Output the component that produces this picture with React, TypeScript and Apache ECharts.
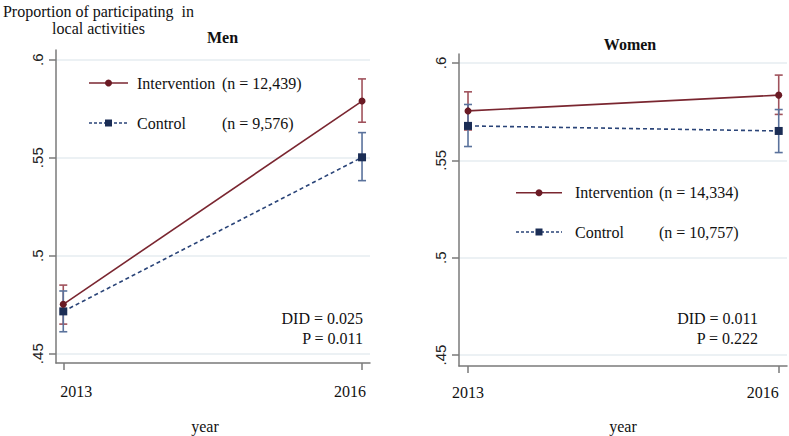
import React, { useEffect, useRef } from 'react';
import * as echarts from 'echarts';

const years = [2013, 2016];
const xTickLabels = ['2013', '2016'];
const yTickValues = [0.45, 0.5, 0.55, 0.6];
const yTickLabels = ['.45', '.5', '.55', '.6'];

const menIntervention = [0.4752, 0.5789];
const menInterventionLow = [0.4651, 0.5681];
const menInterventionHigh = [0.485, 0.5902];
const menControl = [0.4716, 0.5502];
const menControlLow = [0.4612, 0.5383];
const menControlHigh = [0.482, 0.5628];

const womenIntervention = [0.5754, 0.5835];
const womenInterventionLow = [0.5656, 0.5736];
const womenInterventionHigh = [0.5852, 0.5938];
const womenControl = [0.5677, 0.5651];
const womenControlLow = [0.5571, 0.554];
const womenControlHigh = [0.5787, 0.5761];

const panelTitles = ['Men', 'Women'];
const groupNames = ['Intervention', 'Control'];
const menN = ['(n = 12,439)', '(n = 9,576)'];
const womenN = ['(n = 14,334)', '(n = 10,757)'];
const menStats = ['DID = 0.025', 'P = 0.011'];
const womenStats = ['DID = 0.011', 'P = 0.222'];
const yTitle = ['Proportion of participating  in', 'local activities'];
const xTitle = 'year';

const SERIF = '"Liberation Serif", "Times New Roman", serif';
const SANS = '"Liberation Sans", Arial, sans-serif';
const INT_LINE = '#7a2630';
const INT_MARK = '#6a1a24';
const INT_CI = '#a0525c';
const CTL_LINE = '#2a4478';
const CTL_MARK = '#1b2d55';
const CTL_CI = '#5a729c';
const GRIDC = '#e6ecf0';
const AXISC = '#7a7a7a';

function errBar(color: string) {
  return (params: any, api: any) => {
    const x = api.value(0);
    const lo = api.coord([x, api.value(1)]);
    const hi = api.coord([x, api.value(2)]);
    const w = 4;
    const style = { stroke: color, lineWidth: 1.6 };
    return {
      type: 'group',
      children: [
        { type: 'line', shape: { x1: lo[0], y1: lo[1], x2: hi[0], y2: hi[1] }, style },
        { type: 'line', shape: { x1: lo[0] - w, y1: lo[1], x2: lo[0] + w, y2: lo[1] }, style },
        { type: 'line', shape: { x1: hi[0] - w, y1: hi[1], x2: hi[0] + w, y2: hi[1] }, style },
      ],
    };
  };
}

function zip(vals: number[]) {
  return years.map((y, i) => [y, vals[i]]);
}
function zipCI(lo: number[], hi: number[]) {
  return years.map((y, i) => [y, lo[i], hi[i]]);
}

export default function App() {
  const ref = useRef<HTMLDivElement>(null);
  useEffect(() => {
    if (!ref.current) return;
    const chart = echarts.init(ref.current, null, { renderer: 'svg' });

    const grids = [
      { left: 56, top: 50, width: 314, height: 313 },
      { left: 459, top: 54, width: 328, height: 312 },
    ];
    const xRanges = [
      [2012.927, 2016.08],
      [2012.913, 2016.08],
    ];
    const yRanges = [
      [0.44526, 0.60495],
      [0.44433, 0.60464],
    ];

    const xAxes = [0, 1].map((g) => ({
      type: 'value',
      gridIndex: g,
      min: xRanges[g][0],
      max: xRanges[g][1],
      axisLine: { show: true, onZero: false, lineStyle: { color: AXISC, width: 1.5 } },
      axisTick: { show: true, customValues: years, length: 7, lineStyle: { color: AXISC, width: 1.5 } },
      axisLabel: { show: false },
      splitLine: { show: false },
    }));
    const yAxes = [0, 1].map((g) => ({
      type: 'value',
      gridIndex: g,
      min: yRanges[g][0],
      max: yRanges[g][1],
      axisLine: { show: true, onZero: false, lineStyle: { color: AXISC, width: 1.5 } },
      axisTick: { show: true, customValues: yTickValues, length: 7, lineStyle: { color: AXISC, width: 1.5 } },
      axisLabel: {
        show: true,
        customValues: yTickValues,
        rotate: 90,
        margin: 11,
        fontFamily: SANS,
        fontSize: 15,
        color: '#222',
        formatter: (v: number) => {
          const idx = yTickValues.findIndex((t) => Math.abs(t - v) < 1e-6);
          return idx >= 0 ? yTickLabels[idx] : '';
        },
      },
      splitLine: { show: false },
    }));

    const panels = [
      {
        int: menIntervention, intLo: menInterventionLow, intHi: menInterventionHigh,
        ctl: menControl, ctlLo: menControlLow, ctlHi: menControlHigh,
      },
      {
        int: womenIntervention, intLo: womenInterventionLow, intHi: womenInterventionHigh,
        ctl: womenControl, ctlLo: womenControlLow, ctlHi: womenControlHigh,
      },
    ];

    const series: any[] = [];
    panels.forEach((p, g) => {
      // gridlines
      series.push({
        type: 'line',
        xAxisIndex: g,
        yAxisIndex: g,
        z: 0,
        silent: true,
        symbol: 'none',
        data: [[xRanges[g][0], yTickValues[0]]],
        lineStyle: { opacity: 0 },
        markLine: {
          silent: true,
          symbol: 'none',
          z: 0,
          animation: false,
          label: { show: false },
          lineStyle: { color: GRIDC, width: 1.5, type: 'solid' },
          data: yTickValues.map((v) => ({ yAxis: v })),
        },
      });
      series.push({
        type: 'custom',
        xAxisIndex: g,
        yAxisIndex: g,
        z: 6,
        silent: true,
        renderItem: errBar(INT_CI),
        data: zipCI(p.intLo, p.intHi),
      });
      series.push({
        type: 'custom',
        xAxisIndex: g,
        yAxisIndex: g,
        z: 6,
        silent: true,
        renderItem: errBar(CTL_CI),
        data: zipCI(p.ctlLo, p.ctlHi),
      });
      series.push({
        type: 'line',
        name: groupNames[1],
        xAxisIndex: g,
        yAxisIndex: g,
        z: 7,
        data: zip(p.ctl),
        symbol: 'rect',
        symbolSize: 8,
        itemStyle: { color: CTL_MARK },
        lineStyle: { color: CTL_LINE, width: 1.6, type: [4, 3] },
      });
      series.push({
        type: 'line',
        name: groupNames[0],
        xAxisIndex: g,
        yAxisIndex: g,
        z: 8,
        data: zip(p.int),
        symbol: 'circle',
        symbolSize: 7,
        itemStyle: { color: INT_MARK },
        lineStyle: { color: INT_LINE, width: 1.6 },
      });
    });

    const txt = (x: number, y: number, text: string, opts: any = {}) => ({
      type: 'text',
      x,
      y,
      silent: true,
      style: {
        text,
        fill: '#111',
        font: `${opts.bold ? 'bold ' : ''}${opts.size || 16}px ${SERIF}`,
        textAlign: opts.align || 'left',
        textVerticalAlign: 'middle',
      },
    });

    const legend = (x0: number, x1: number, ys: number[], nTexts: string[], textX: number, nX: number) => {
      const els: any[] = [];
      const mx = (x0 + x1) / 2;
      els.push({ type: 'line', shape: { x1: x0, y1: ys[0], x2: x1, y2: ys[0] }, style: { stroke: INT_LINE, lineWidth: 1.6 } });
      els.push({ type: 'circle', shape: { cx: mx, cy: ys[0], r: 3.5 }, style: { fill: INT_MARK } });
      els.push({ type: 'line', shape: { x1: x0, y1: ys[1], x2: x1, y2: ys[1] }, style: { stroke: CTL_LINE, lineWidth: 1.4, lineDash: [3, 2] } });
      els.push({ type: 'rect', shape: { x: mx - 3.5, y: ys[1] - 3.5, width: 7, height: 7 }, style: { fill: CTL_MARK } });
      groupNames.forEach((n, i) => {
        els.push(txt(textX, ys[i], n));
        els.push(txt(nX, ys[i], nTexts[i]));
      });
      return els;
    };

    const baseGraphic: any[] = [
      txt(98.5, 11, yTitle[0], { align: 'center' }),
      txt(98.5, 28, yTitle[1], { align: 'center' }),
      txt(222.5, 37, panelTitles[0], { bold: true, align: 'center' }),
      txt(630, 44, panelTitles[1], { bold: true, align: 'center' }),
      txt(205, 426, xTitle, { align: 'center' }),
      txt(623, 426, xTitle, { align: 'center' }),
      txt(363, 318, menStats[0], { align: 'right' }),
      txt(363, 338, menStats[1], { align: 'right' }),
      txt(758, 318, womenStats[0], { align: 'right' }),
      txt(758, 338, womenStats[1], { align: 'right' }),
      ...legend(89, 128, [83, 123], menN, 137, 222),
      ...legend(516, 562, [192.7, 232], womenN, 575, 659),
    ];

    chart.setOption({
      animation: false,
      backgroundColor: '#ffffff',
      grid: grids,
      xAxis: xAxes,
      yAxis: yAxes,
      series,
      graphic: baseGraphic,
    });

    // x tick labels placed via the axis scale
    const labelAlign = [
      ['left', 'right'],
      ['center', 'right'],
    ];
    const labelShift = [
      [-3, 4],
      [0, 0],
    ];
    const labelY = [391, 392];
    const xLabels: any[] = [];
    [0, 1].forEach((g) => {
      years.forEach((yr, i) => {
        const px = chart.convertToPixel({ xAxisIndex: g } as any, yr) as unknown as number;
        xLabels.push(txt(px + labelShift[g][i], labelY[g], xTickLabels[i], { align: labelAlign[g][i] }));
      });
    });
    chart.setOption({ graphic: [...baseGraphic, ...xLabels] });

    return () => chart.dispose();
  }, []);
  return (
    <div
      ref={ref}
      style={{ position: 'fixed', left: 0, top: 0, width: 789, height: 436, background: '#fff' }}
    />
  );
}
